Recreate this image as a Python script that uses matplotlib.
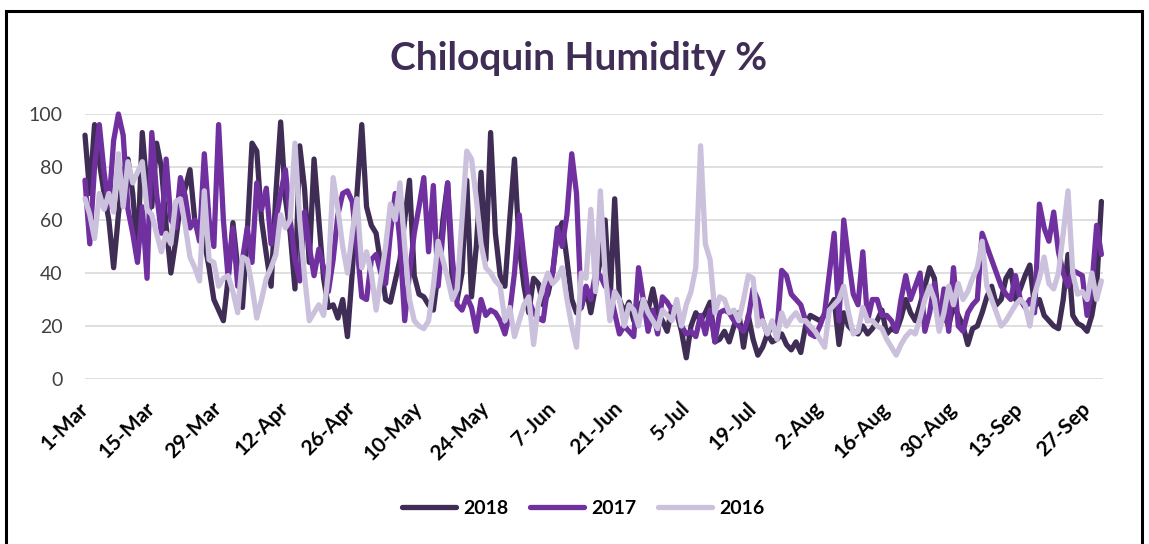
import matplotlib.pyplot as plt
import pandas as pd
from matplotlib.patches import Rectangle

# daily humidity, 1-Mar to 30-Sep
dates = pd.date_range('2018-03-01', '2018-09-30', freq='D')
tick_dates = pd.date_range('2018-03-01', '2018-09-30', freq='14D')
tick_labels = [f'{d.day}-{d.strftime("%b")}' for d in tick_dates]

hum_2018 = [
    92, 70, 96, 82, 70, 60, 42, 62, 78, 83,
    70, 47, 93, 72, 65, 89, 80, 58, 40, 52,
    66, 72, 79, 60, 56, 52, 42, 30, 26, 22,
    38, 59, 42, 27, 55, 89, 86, 60, 47, 35,
    70, 97, 68, 55, 34, 88, 72, 44, 83, 60,
    38, 27, 28, 23, 30, 16, 40, 70, 96, 65,
    58, 55, 43, 30, 29, 37, 45, 60, 75, 39,
    32, 31, 28, 26, 40, 60, 74, 35, 30, 40,
    75, 31, 50, 78, 45, 93, 55, 39, 35, 60,
    83, 50, 35, 25, 38, 36, 28, 32, 40, 55,
    59, 45, 30, 25, 27, 34, 25, 35, 45, 60,
    28, 68, 30, 25, 29, 22, 27, 30, 26, 34,
    25, 22, 18, 27, 25, 18, 8, 20, 25, 22,
    25, 29, 14, 15, 18, 14, 20, 25, 12, 24,
    15, 9, 12, 17, 14, 15, 17, 13, 11, 14,
    10, 20, 24, 23, 22, 24, 27, 30, 13, 25,
    20, 18, 17, 20, 17, 19, 22, 26, 17, 19,
    18, 23, 30, 25, 22, 28, 35, 42, 38, 22,
    24, 20, 28, 24, 20, 13, 19, 20, 25, 31,
    35, 28, 30, 38, 41, 30, 34, 39, 43, 27,
    30, 24, 22, 20, 19, 30, 47, 24, 21, 20,
    18, 24, 35, 67,
]

hum_2017 = [
    75, 51, 80, 96, 78, 65, 90, 100, 92, 64,
    55, 44, 65, 38, 93, 70, 55, 83, 60, 57,
    76, 69, 57, 60, 52, 85, 60, 50, 96, 60,
    38, 57, 35, 45, 57, 44, 74, 64, 72, 51,
    60, 70, 79, 60, 45, 37, 63, 50, 39, 49,
    42, 33, 45, 62, 70, 71, 67, 50, 31, 30,
    45, 47, 40, 36, 55, 70, 52, 22, 40, 55,
    65, 76, 48, 73, 35, 55, 74, 45, 28, 26,
    31, 27, 18, 30, 24, 26, 25, 22, 17, 25,
    40, 62, 45, 30, 25, 23, 22, 35, 40, 57,
    50, 62, 85, 70, 27, 35, 30, 40, 39, 35,
    33, 25, 17, 20, 18, 16, 42, 30, 18, 26,
    17, 31, 29, 26, 25, 20, 17, 18, 16, 24,
    17, 26, 14, 25, 26, 25, 22, 20, 18, 23,
    34, 30, 22, 17, 20, 18, 41, 39, 32, 30,
    28, 22, 17, 16, 20, 25, 40, 55, 22, 60,
    45, 32, 28, 48, 22, 30, 30, 24, 24, 22,
    18, 30, 39, 30, 35, 40, 18, 25, 36, 20,
    34, 18, 42, 20, 18, 25, 28, 30, 55, 50,
    45, 40, 35, 32, 30, 39, 30, 27, 30, 25,
    66, 57, 52, 63, 48, 40, 35, 41, 40, 39,
    24, 35, 58, 47,
]

hum_2016 = [
    68, 62, 53, 70, 64, 70, 63, 85, 65, 82,
    74, 78, 82, 64, 62, 55, 48, 55, 51, 67,
    68, 58, 46, 42, 37, 71, 45, 44, 35, 38,
    39, 33, 25, 46, 45, 35, 23, 30, 38, 42,
    47, 62, 57, 60, 89, 60, 39, 22, 25, 28,
    24, 40, 76, 64, 50, 40, 55, 68, 42, 48,
    40, 26, 38, 50, 66, 60, 74, 50, 30, 22,
    20, 19, 22, 35, 52, 45, 38, 30, 34, 60,
    86, 83, 68, 51, 42, 40, 37, 35, 22, 27,
    16, 22, 28, 31, 13, 28, 35, 40, 36, 38,
    42, 30, 20, 12, 40, 38, 64, 33, 71, 40,
    22, 33, 30, 20, 28, 26, 20, 30, 25, 22,
    19, 26, 24, 22, 30, 20, 28, 33, 42, 88,
    51, 45, 25, 31, 30, 25, 26, 22, 30, 39,
    38, 20, 22, 17, 22, 15, 25, 20, 23, 25,
    22, 22, 20, 18, 15, 12, 26, 28, 30, 35,
    25, 17, 18, 27, 22, 22, 20, 19, 15, 12,
    9, 13, 16, 18, 17, 23, 30, 35, 30, 18,
    25, 35, 28, 36, 30, 33, 38, 42, 52, 35,
    30, 25, 20, 22, 25, 28, 30, 28, 20, 32,
    38, 46, 36, 34, 40, 55, 71, 40, 32, 33,
    30, 40, 30, 37,
]

series = [('2018', hum_2018, '#3F2D56'),
          ('2017', hum_2017, '#7030A0'),
          ('2016', hum_2016, '#CBC1DD')]

plt.rcParams['font.family'] = ['Lato', 'DejaVu Sans']

W, H = 1149, 544
fig = plt.figure(figsize=(W / 100, H / 100), dpi=100)
ax = fig.add_axes([85 / W, 1 - 379 / H, (1103 - 85) / W, (379 - 114) / H])

for i, (name, vals, col) in enumerate(series):
    ax.plot(dates, vals, color=col, lw=3.8, label=name, zorder=2 + i,
            solid_joinstyle='round', solid_capstyle='round', clip_on=False)

ax.set_xlim(dates[0], dates[-1] + pd.Timedelta(hours=8))
ax.set_ylim(0, 100)
ax.set_yticks(range(0, 101, 20))
ax.set_xticks(tick_dates)
ax.set_xticklabels(tick_labels, rotation=45, ha='right', va='center',
                   rotation_mode='anchor', fontweight='bold', fontsize=15)
ax.tick_params(axis='x', length=0, pad=19, colors='black')
ax.tick_params(axis='y', length=0, pad=16, labelsize=14, colors='#404040')
ax.grid(axis='y', color='#D9D9D9', lw=1.2)
ax.set_axisbelow(True)
for s in ax.spines.values():
    s.set_visible(False)

fig.text(579 / W, 1 - 58 / H, 'Chiloquin Humidity %', ha='center', va='center',
         fontsize=28, fontweight='bold', color='#3F2D56')

fig.legend(loc='center', bbox_to_anchor=(583 / W, 1 - 508 / H), ncol=3,
           frameon=False, prop={'weight': 'bold', 'size': 14},
           handlelength=2.8, handletextpad=0.35, columnspacing=1.1)

# chart border
fig.patches.append(Rectangle((6 / W, -0.05), (1142 - 6) / W, 1.05 - 11 / H,
                             transform=fig.transFigure, fill=False,
                             edgecolor='black', lw=2.2))

fig.savefig('out.png', dpi=100)
